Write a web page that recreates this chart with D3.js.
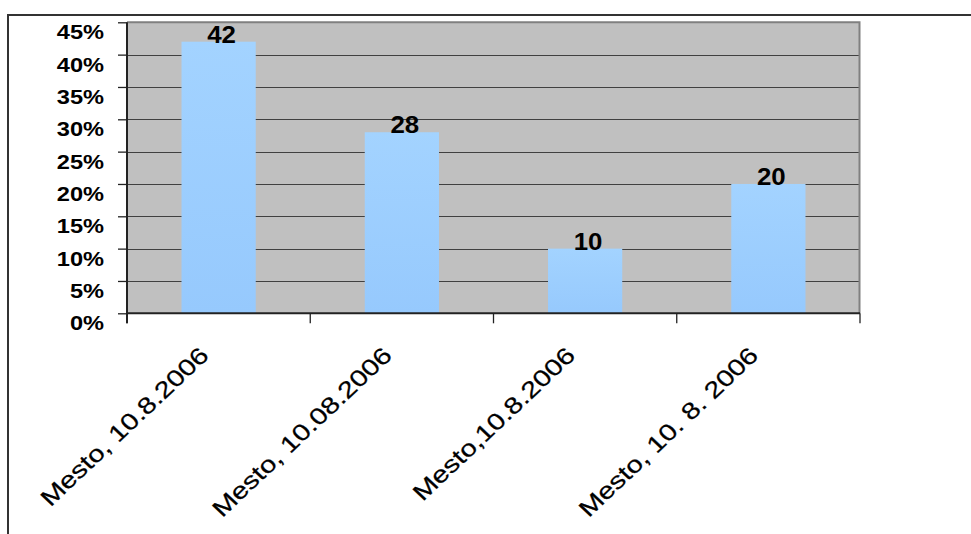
<!DOCTYPE html>
<html>
<head>
<meta charset="utf-8">
<script src="https://cdn.jsdelivr.net/npm/d3@7"></script>
<style>
  html, body { margin: 0; padding: 0; background: #fff; }
  svg { display: block; font-family: Arial, "Liberation Sans", sans-serif; }
</style>
</head>
<body>
<svg id="chart" width="971" height="534"></svg>
<script>
// Survey results per location/date
const categories = ["Mesto, 10.8.2006", "Mesto, 10.08.2006", "Mesto,10.8.2006", "Mesto, 10. 8. 2006"];
const values = [42, 28, 10, 20];
const yTicks = [0, 5, 10, 15, 20, 25, 30, 35, 40, 45];

const svg = d3.select("#chart");
const W = 971, H = 534;
const plot = { left: 127, right: 860, top: 22.3, bottom: 313.3 };

const x = d3.scaleBand().domain(categories).range([plot.left, plot.right]).paddingInner(0).paddingOuter(0);
const y = d3.scaleLinear().domain([0, 45]).range([plot.bottom, plot.top]);

// outer chart frame (runs off the right and bottom edges)
svg.append("path")
  .attr("d", `M8,${H + 2} L8,15 L${W + 2},15`)
  .attr("fill", "none").attr("stroke", "#333").attr("stroke-width", 2);

// plot background
svg.append("rect")
  .attr("x", plot.left).attr("y", plot.top)
  .attr("width", plot.right - plot.left).attr("height", plot.bottom - plot.top)
  .attr("fill", "#c0c0c0");

// horizontal gridlines
svg.append("g").selectAll("line")
  .data(yTicks.filter(d => d > 0 && d < 45))
  .join("line")
  .attr("x1", plot.left).attr("x2", plot.right)
  .attr("y1", d => Math.round(y(d)) + 0.5).attr("y2", d => Math.round(y(d)) + 0.5)
  .attr("stroke", "#404040").attr("stroke-width", 1);

// plot border top/right
svg.append("path")
  .attr("d", `M${plot.left},${plot.top} L${plot.right - 0.5},${plot.top} L${plot.right - 0.5},${plot.bottom}`)
  .attr("fill", "none").attr("stroke", "#808080").attr("stroke-width", 2);

// bar gradient
const defs = svg.append("defs");
const grad = defs.append("linearGradient").attr("id", "barFill")
  .attr("x1", 0).attr("y1", 0).attr("x2", 0).attr("y2", 1);
grad.append("stop").attr("offset", "0%").attr("stop-color", "#a3d3ff");
grad.append("stop").attr("offset", "100%").attr("stop-color", "#96c9fd");

const barFrac = 0.405;
const bw = x.bandwidth() * barFrac;

svg.append("g").selectAll("rect")
  .data(values)
  .join("rect")
  .attr("x", (d, i) => x(categories[i]) + (x.bandwidth() - bw) / 2)
  .attr("y", d => y(d))
  .attr("width", bw)
  .attr("height", d => y(0) - y(d))
  .attr("fill", "url(#barFill)");

// value labels
svg.append("g").selectAll("text")
  .data(values)
  .join("text")
  .attr("transform", (d, i) => `translate(${x(categories[i]) + x.bandwidth() / 2 + 3},${y(d) + 1}) scale(1.1,1)`)
  .attr("text-anchor", "middle")
  .attr("font-size", 23.5)
  .attr("font-weight", "bold")
  .attr("fill", "#000")
  .text(d => d);

// y axis
const yAxis = svg.append("g")
  .attr("transform", `translate(${plot.left},0)`)
  .call(d3.axisLeft(y).tickValues(yTicks).tickSize(9).tickFormat(d => d + "%"));
yAxis.select(".domain").attr("stroke", "#222").attr("stroke-width", 2)
  .attr("d", `M0,${plot.top}V${plot.bottom + 10}`);
yAxis.selectAll(".tick line").attr("stroke", "#222").attr("stroke-width", 1.3);
yAxis.selectAll(".tick text")
  .attr("x", null).attr("dy", null).attr("y", null)
  .attr("transform", "translate(-23,16.5) scale(1.18,1)")
  .attr("text-anchor", "end")
  .attr("font-size", 20)
  .attr("font-weight", "bold")
  .attr("font-family", "Arial, 'Liberation Sans', sans-serif")
  .attr("fill", "#000");

// x axis: ticks at category boundaries
const xAxis = svg.append("g")
  .attr("transform", `translate(0,${plot.bottom})`)
  .call(d3.axisBottom(x).tickSize(0).tickFormat(""));
xAxis.select(".domain").attr("stroke", "#222").attr("stroke-width", 2)
  .attr("d", `M${plot.left},0H${plot.right}`);
xAxis.selectAll(".tick").remove();

const bounds = categories.map(c => x(c)).concat([x(categories[categories.length - 1]) + x.bandwidth()]);
xAxis.append("g").selectAll("line")
  .data(bounds)
  .join("line")
  .attr("x1", d => d).attr("x2", d => d)
  .attr("y1", 0).attr("y2", 10)
  .attr("stroke", "#222").attr("stroke-width", 1.3);

// rotated category labels
xAxis.append("g").selectAll("text")
  .data(categories)
  .join("text")
  .attr("transform", d => `translate(${x(d) + x.bandwidth() / 2 - 8.5},${43.5}) scale(1.06,1) rotate(-45) scale(1.2,1)`)
  .attr("text-anchor", "end")
  .attr("font-size", 23)
  .attr("stroke", "#000")
  .attr("stroke-width", 0.25)
  .attr("fill", "#000")
  .text(d => d);
</script>
</body>
</html>
